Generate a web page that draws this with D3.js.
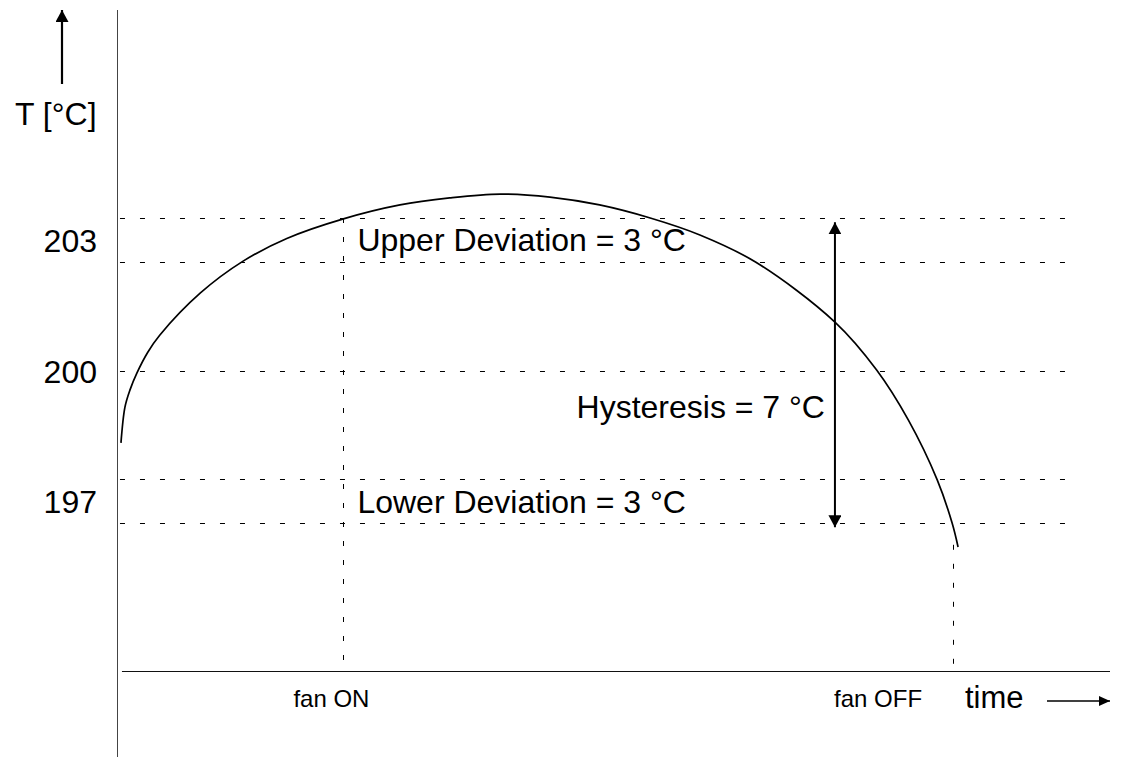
<!DOCTYPE html>
<html>
<head>
<meta charset="utf-8">
<script src="https://cdn.jsdelivr.net/npm/d3@7"></script>
<style>
  html, body { margin: 0; padding: 0; background: #fff; }
  svg { display: block; font-family: "Liberation Sans", Arial, sans-serif; }
</style>
</head>
<body>
<script>
// temperature curve (time in arbitrary units 0..100)
const curveTime = [0.4, 0.8, 1.3, 2.0, 3.1, 4.3, 8.4, 12.7, 17.1, 22.8, 28.5, 33.5, 38.6, 43.6, 48.6, 53.7, 58.7, 64.3, 72.3, 76.5, 79.7, 82.6, 84.1, 84.7];
const curveTemp = [198.34, 199.16, 199.55, 199.94, 200.42, 200.81, 201.78, 202.51, 203.03, 203.48, 203.80, 203.96, 204.05, 203.98, 203.80, 203.50, 203.11, 202.49, 201.11, 200.01, 198.86, 197.49, 196.50, 195.95];

// dashed reference levels and labelled values
const levels = [203.5, 202.5, 200, 197.5, 196.5];
const tickValues = [203, 200, 197];

// fan switch events
const fanLabels = ["fan ON", "fan OFF"];
const fanTimes = [22.8, 84.2];
const fanFrom = [203.5, 196.0];

// annotations
const bandLabels = ["Upper Deviation = 3 °C", "Lower Deviation = 3 °C"];
const bandValues = [203, 197];
const hystTop = 203.4, hystBottom = 196.4, hystTime = 72.3;

const width = 1127, height = 757;

let x = d3.scaleLinear().domain([0, 100]).range([117, 1110]);
let y = d3.scaleLinear().domain([196.5, 203.5]).range([523, 218]);
const baseT = 193.1;

let svg = d3.select("body").append("svg")
    .attr("width", width)
    .attr("height", height);

let defs = svg.append("defs");
defs.append("marker")
    .attr("id", "head")
    .attr("viewBox", "0 -6.5 12 13")
    .attr("refX", 12).attr("refY", 0)
    .attr("markerWidth", 12).attr("markerHeight", 13)
    .attr("markerUnits", "userSpaceOnUse")
    .attr("orient", "auto-start-reverse")
    .append("path").attr("d", "M0,-6.5L12,0L0,6.5Z").attr("fill", "#000");
defs.append("marker")
    .attr("id", "small")
    .attr("viewBox", "0 -5 11 10")
    .attr("refX", 11).attr("refY", 0)
    .attr("markerWidth", 11).attr("markerHeight", 10)
    .attr("markerUnits", "userSpaceOnUse")
    .attr("orient", "auto")
    .append("path").attr("d", "M0,-5L11,0L0,5Z").attr("fill", "#000");

// dashed horizontal levels
svg.append("g").selectAll("line")
    .data(levels)
    .join("line")
    .attr("x1", x(0.3)).attr("x2", x(96.8))
    .attr("y1", d => Math.round(y(d)) + 0.5)
    .attr("y2", d => Math.round(y(d)) + 0.5)
    .attr("stroke", "#000")
    .attr("stroke-width", 1)
    .attr("stroke-dasharray", "5,15");

// fan event verticals
svg.append("g").selectAll("line")
    .data(fanTimes)
    .join("line")
    .attr("x1", d => Math.round(x(d)) + 0.5)
    .attr("x2", d => Math.round(x(d)) + 0.5)
    .attr("y1", (d, i) => y(fanFrom[i]))
    .attr("y2", y(baseT))
    .attr("stroke", "#000")
    .attr("stroke-width", 1)
    .attr("stroke-dasharray", "5,14");

// y axis: only labels, no ticks
let yAxis = svg.append("g")
    .attr("transform", "translate(117,0)")
    .call(d3.axisLeft(y).tickValues(tickValues).tickSize(0).tickPadding(20).tickFormat(d3.format("d")));
yAxis.select(".domain").remove();
yAxis.selectAll("text")
    .attr("font-size", 32)
    .attr("font-family", "Liberation Sans, Arial, sans-serif")
    .attr("fill", "#000")
    .attr("dy", "0.36em");

// axis lines
svg.append("line")
    .attr("x1", 117.5).attr("x2", 117.5)
    .attr("y1", 10).attr("y2", height)
    .attr("stroke", "#444").attr("stroke-width", 1);
svg.append("line")
    .attr("x1", x(0.5)).attr("x2", x(100))
    .attr("y1", Math.round(y(baseT)) + 0.5).attr("y2", Math.round(y(baseT)) + 0.5)
    .attr("stroke", "#111").attr("stroke-width", 1);

// temperature curve
let line = d3.line()
    .x((d, i) => x(curveTime[i]))
    .y(d => y(d))
    .curve(d3.curveCatmullRom.alpha(0.5));
svg.append("path")
    .datum(curveTemp)
    .attr("d", line)
    .attr("fill", "none")
    .attr("stroke", "#000")
    .attr("stroke-width", 1.7);

// hysteresis double arrow
svg.append("line")
    .attr("x1", x(hystTime)).attr("x2", x(hystTime))
    .attr("y1", y(hystBottom)).attr("y2", y(hystTop))
    .attr("stroke", "#000").attr("stroke-width", 2)
    .attr("marker-start", "url(#head)")
    .attr("marker-end", "url(#head)");

svg.append("text")
    .attr("x", x(hystTime) - 10)
    .attr("y", y(199) + 4)
    .attr("text-anchor", "end")
    .attr("font-size", 32)
    .text("Hysteresis = 7 °C");

// deviation labels
svg.append("g").selectAll("text")
    .data(bandLabels)
    .join("text")
    .attr("x", x(fanTimes[0]) + 14)
    .attr("y", (d, i) => y(bandValues[i]) + 11.5)
    .attr("font-size", 32)
    .text(d => d);

// fan labels under the axis
svg.append("text")
    .attr("x", x(fanTimes[0]) - 50)
    .attr("y", 707)
    .attr("font-size", 24)
    .text(fanLabels[0]);
svg.append("text")
    .attr("x", x(fanTimes[1]) - 31)
    .attr("y", 707)
    .attr("text-anchor", "end")
    .attr("font-size", 24)
    .text(fanLabels[1]);

// axis titles with arrows
svg.append("line")
    .attr("x1", 62).attr("x2", 62)
    .attr("y1", 84).attr("y2", 10)
    .attr("stroke", "#000").attr("stroke-width", 2.2)
    .attr("marker-end", "url(#head)");
svg.append("text")
    .attr("x", 15).attr("y", 125)
    .attr("font-size", 32)
    .text("T [°C]");

svg.append("text")
    .attr("x", 965).attr("y", 708)
    .attr("font-size", 31)
    .text("time");
svg.append("line")
    .attr("x1", 1047).attr("x2", 1110)
    .attr("y1", 701).attr("y2", 701)
    .attr("stroke", "#000").attr("stroke-width", 1.5)
    .attr("marker-end", "url(#small)");
</script>
</body>
</html>
